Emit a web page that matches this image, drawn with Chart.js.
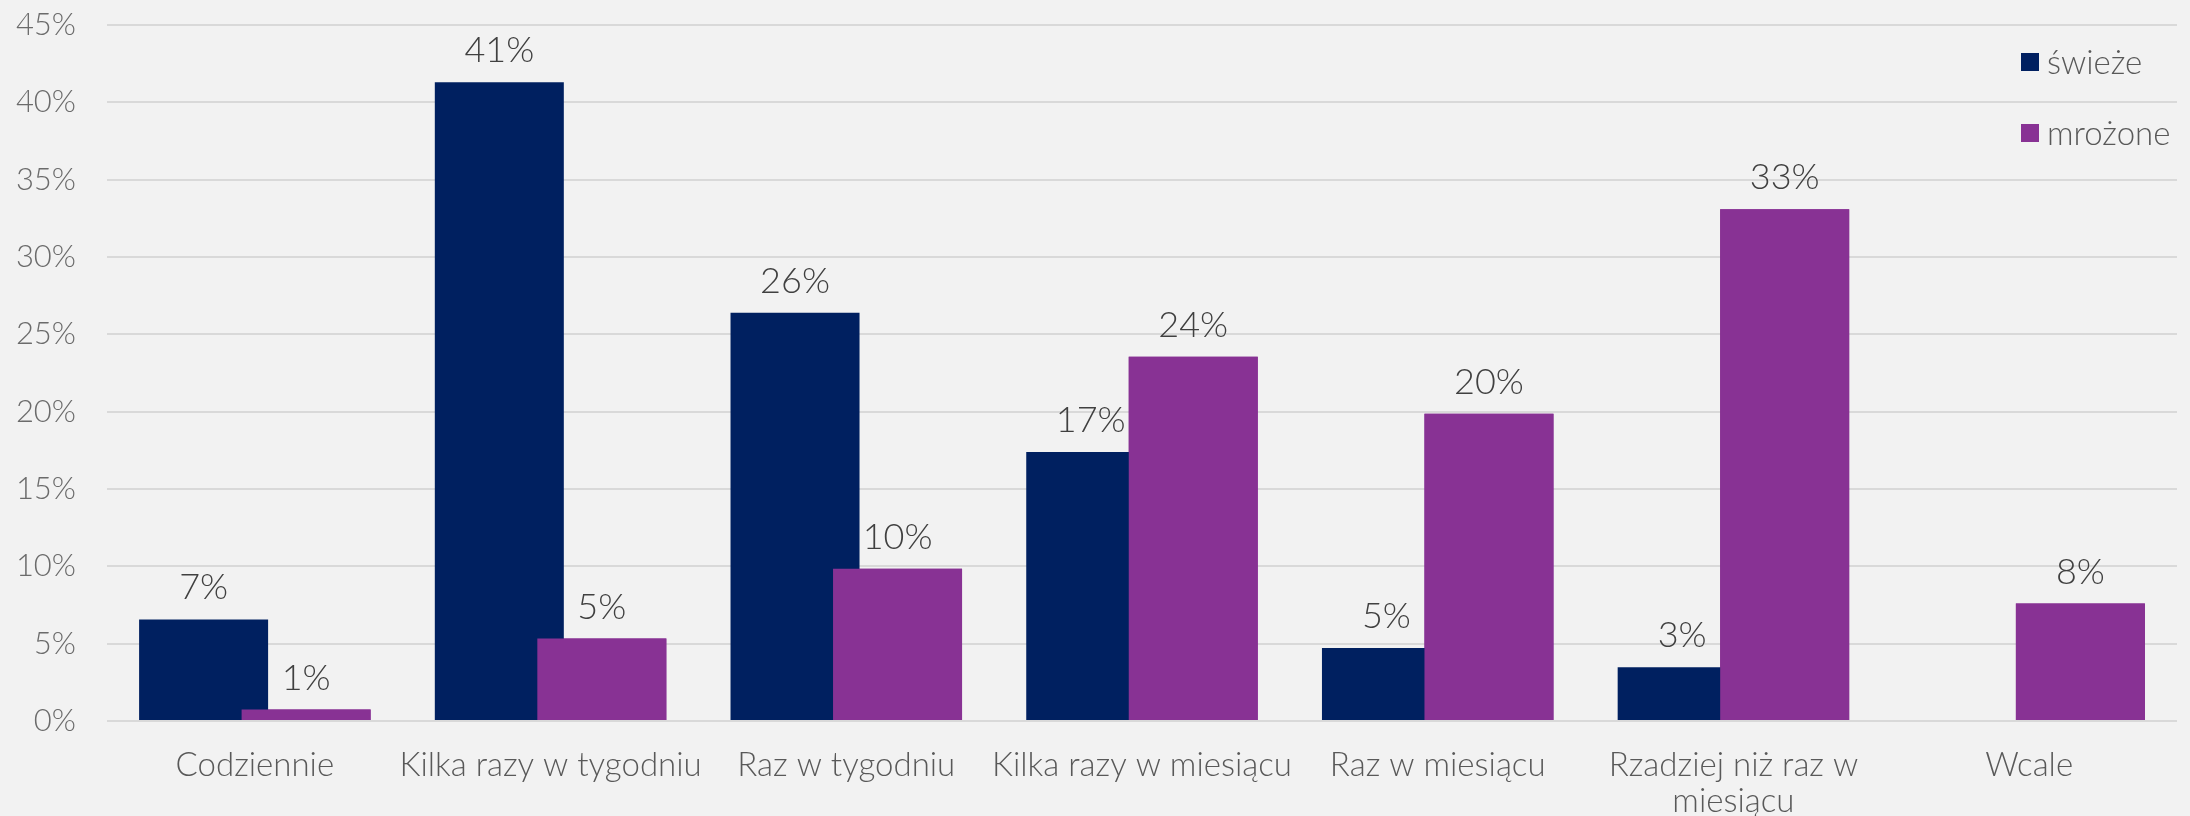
<!DOCTYPE html>
<html lang="pl">
<head>
<meta charset="utf-8">
<title>Świeże i mrożone – częstotliwość</title>
<script src="https://cdn.jsdelivr.net/npm/chart.js@4/dist/chart.umd.min.js"></script>
<style>
  html, body { margin: 0; padding: 0; background: #f2f2f2; }
  #wrap { width: 2190px; height: 816px; }
</style>
</head>
<body>
<div id="wrap"><canvas id="freqChart" width="2190" height="816"></canvas></div>
<script>
// Categories and series
const categories = [
  "Codziennie",
  "Kilka razy w tygodniu",
  "Raz w tygodniu",
  "Kilka razy w miesiącu",
  "Raz w miesiącu",
  ["Rzadziej niż raz w", "miesiącu"],
  "Wcale",
];
const seriesNames = ["świeże", "mrożone"];
const seriesColors = ["#002060", "#883294"];
const fresh = [6.57, 41.3, 26.4, 17.4, 4.72, 3.47, null];
const frozen = [0.74, 5.33, 9.84, 23.55, 19.86, 33.08, 7.59];
const yTicks = [0, 5, 10, 15, 20, 25, 30, 35, 40, 45];

const FONT = "Lato";

// mrożone overlaps świeże, so paint it again on top, then the value labels
const frontBars = {
  id: "frontBars",
  afterDatasetsDraw(chart) {
    const ctx = chart.ctx;
    chart.getDatasetMeta(1).data.forEach((bar) => bar.draw(ctx));

    ctx.save();
    ctx.font = "300 36px " + FONT;
    ctx.fillStyle = "#404040";
    ctx.textAlign = "center";
    ctx.textBaseline = "alphabetic";
    chart.data.datasets.forEach((ds, i) => {
      chart.getDatasetMeta(i).data.forEach((bar, j) => {
        const v = ds.data[j];
        if (v == null) return;
        ctx.fillText(Math.round(v) + "%", bar.x, bar.y - 20);
      });
    });
    ctx.restore();
  },
};

// Legend sits inside the plot, top right
const cornerLegend = {
  id: "cornerLegend",
  afterDraw(chart) {
    const ctx = chart.ctx;
    const area = chart.chartArea;
    const x = area.right - 156;
    let y = area.top + 28;
    ctx.save();
    ctx.font = "300 33px " + FONT;
    ctx.textBaseline = "alphabetic";
    chart.data.datasets.forEach((ds) => {
      ctx.fillStyle = ds.backgroundColor;
      ctx.fillRect(x, y, 18, 18);
      ctx.fillStyle = "#595959";
      ctx.fillText(ds.label, x + 26, y + 20.5);
      y += 71;
    });
    ctx.restore();
  },
};

function drawChart() {
  const ctx = document.getElementById("freqChart").getContext("2d");
  new Chart(ctx, {
    type: "bar",
    data: {
      labels: categories,
      datasets: [
        {
          label: seriesNames[0],
          data: fresh,
          backgroundColor: seriesColors[0],
          categoryPercentage: 0.6933,
          barPercentage: 1.2585,
        },
        {
          label: seriesNames[1],
          data: frozen,
          backgroundColor: seriesColors[1],
          categoryPercentage: 0.6933,
          barPercentage: 1.2585,
        },
      ],
    },
    options: {
      responsive: false,
      animation: false,
      devicePixelRatio: 1,
      layout: {
        padding: { top: 25, right: 13, bottom: 0, left: 0 },
      },
      plugins: {
        legend: { display: false },
        tooltip: { enabled: false },
      },
      scales: {
        x: {
          grid: { display: false, drawTicks: false },
          border: { display: false },
          ticks: {
            color: "#595959",
            padding: 26,
            maxRotation: 0,
            autoSkip: false,
            font: { family: FONT, size: 33, weight: "300", lineHeight: 1.1 },
          },
          afterFit(scale) {
            scale.height = 95;
            scale.paddingLeft = 0;
            scale.paddingRight = 0;
          },
        },
        y: {
          min: 0,
          max: 45,
          grid: { color: "#d9d9d9", lineWidth: 2, drawTicks: false },
          border: { display: false },
          ticks: {
            color: "#6b6b6b",
            padding: 31,
            font: { family: FONT, size: 31, weight: "300" },
            callback: (v) => v + "%",
          },
          afterBuildTicks(scale) {
            scale.ticks = yTicks.map((v) => ({ value: v }));
          },
          afterFit(scale) {
            // fixed gutter for the tick labels; the plot top is set by layout padding
            scale.width = 107;
            scale.paddingTop = 0;
            scale.paddingBottom = 0;
          },
        },
      },
    },
    plugins: [frontBars, cornerLegend],
  });
}

document.fonts.load("300 33px " + FONT).then(drawChart, drawChart);
</script>
</body>
</html>
